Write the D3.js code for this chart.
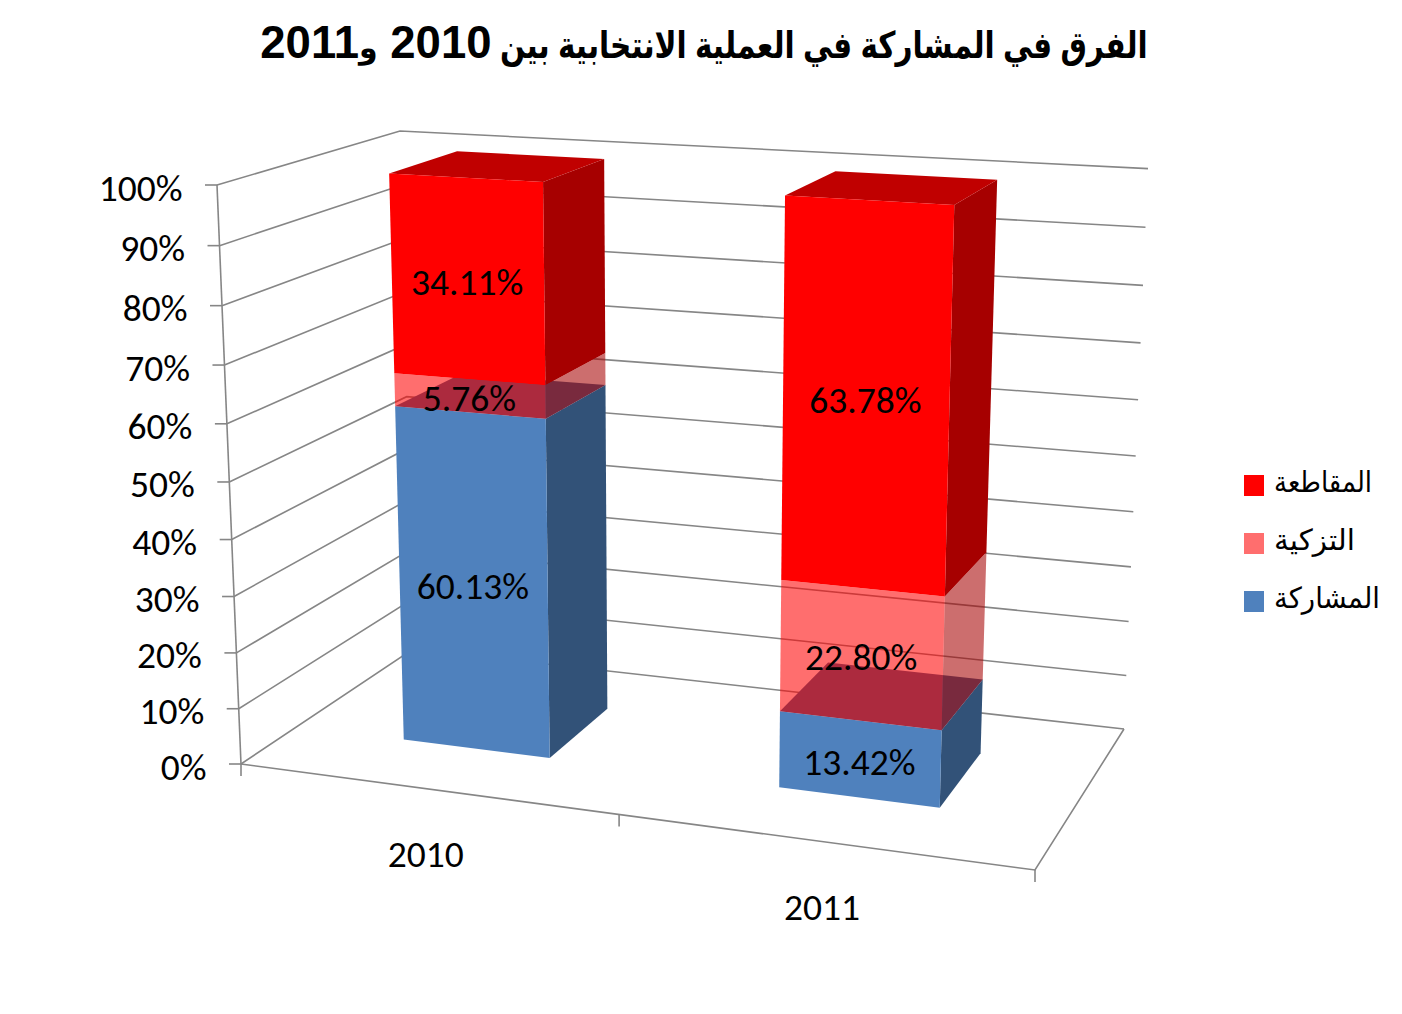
<!DOCTYPE html>
<html lang="ar">
<head>
<meta charset="utf-8">
<title>chart</title>
<script src="https://cdn.jsdelivr.net/npm/d3@7/dist/d3.min.js"></script>
<style>
html,body{margin:0;padding:0;background:#fff;overflow:hidden}
svg{display:block}
</style>
</head>
<body>
<svg id="c" width="1402" height="1014"></svg>
<script>
// ---- data ----
const categories = ["2010", "2011"];
const participation = [60.13, 13.42];
const acclamation = [5.76, 22.80];
const boycott = [34.11, 63.78];
const seriesNames = ["المشاركة", "التزكية", "المقاطعة"];
const valueTicks = [0,10,20,30,40,50,60,70,80,90,100];

// ---- 3D box of the plot (screen corners), and perspective factors ----
const floorFL=[241,764], floorFR=[1035,870], floorBL=[413,649], floorBR=[1124,729];
const topFL=[217,185], topFR=[1055,234], topBL=[400,131], topBR=[1148,168.6];
const warp=(t,k)=>t/(t+(1-t)*k);
const kX=1.10, kD=0.87, kV=1.053;

const xScale=d3.scaleBand().domain(categories).range([0,1]).paddingInner(0.6).paddingOuter(0.3);
const xAxisScale=d3.scaleLinear().domain([0,1]).range([0,1]);
const yScale=d3.scaleLinear().domain([0,100]).range([0,1]);
const depthRange=[0.3,0.7];

function mix(a,b,t){return [a[0]+(b[0]-a[0])*t,a[1]+(b[1]-a[1])*t];}
function project(x,d,v){
  const u=warp(xAxisScale(x),kX), w=warp(d,kD), h=warp(yScale(v),kV);
  const bottom=mix(mix(floorFL,floorFR,u),mix(floorBL,floorBR,u),w);
  const top=mix(mix(topFL,topFR,u),mix(topBL,topBR,u),w);
  return mix(bottom,top,h);
}

const svg=d3.select("#c");
const line=d3.line();
const poly=d3.line().curve(d3.curveLinearClosed);

// ---- gridlines ----
const gridColor="#868686";
const grid=svg.append("g").attr("fill","none").attr("stroke",gridColor).attr("stroke-width",1.6);
valueTicks.forEach(v=>{
  grid.append("path").attr("d",line([project(0,0,v),project(0,1,v),project(1,1,v)]));
  const p=project(0,0,v);
  grid.append("path").attr("d",line([[p[0]-12,p[1]],p]));
});
grid.append("path").attr("d",line([project(0,0,0),project(0,0,100)]));
grid.append("path").attr("d",line([project(0,0,0),project(1,0,0),project(1,1,0)]));
[0,0.5,1].forEach(x=>{
  const p=project(x,0,0);
  grid.append("path").attr("d",line([p,[p[0],p[1]+12]]));
});

// ---- bars ----
const rows=categories.map((c,i)=>({cat:c,a:participation[i],b:acclamation[i],c:boycott[i]}));
const stacked=d3.stack().keys(["a","b","c"])(rows);
const colours=d3.scaleOrdinal().domain(["a","b","c"]).range(["#4F81BD","#FF0000","#FF0000"]);
const sideColours=d3.scaleOrdinal().domain(["a","b","c"]).range(["#325278","#A60000","#A60000"]);
const topColours=d3.scaleOrdinal().domain(["a","b","c"]).range(["#3F6390","#C00000","#C00000"]);
const opacityOf=d3.scaleOrdinal().domain(["a","b","c"]).range([1,0.57,1]);
const [d0,d1]=depthRange;

const labels=[];
categories.forEach((c,ci)=>{
  const x0=xScale(c), x1=x0+xScale.bandwidth();
  const g=svg.append("g");
  stacked.forEach(s=>{
    const [v0,v1]=s[ci];
    const key=s.key, op=opacityOf(key);
    g.append("path").attr("d",poly([project(x1,d0,v0),project(x1,d1,v0),project(x1,d1,v1),project(x1,d0,v1)]))
      .attr("fill",sideColours(key)).attr("fill-opacity",op);
    if(key!=="b"){
      g.append("path").attr("d",poly([project(x0,d0,v1),project(x1,d0,v1),project(x1,d1,v1),project(x0,d1,v1)]))
        .attr("fill",topColours(key));
    }
    g.append("path").attr("d",poly([project(x0,d0,v0),project(x1,d0,v0),project(x1,d0,v1),project(x0,d0,v1)]))
      .attr("fill",colours(key)).attr("fill-opacity",op);
    const p=project((x0+x1)/2,d0,(v0+v1)/2);
    labels.push({p,t:(v1-v0).toFixed(2)+"%"});
  });
});

// ---- text ----
const sans="Carlito, Lato, 'DejaVu Sans', sans-serif";
const labelSize=37.5;
svg.append("g").selectAll("text").data(labels).join("text")
  .attr("x",d=>d.p[0]).attr("y",d=>d.p[1]+15.5)
  .attr("text-anchor","middle").attr("font-family",sans).attr("font-size",labelSize)
  .attr("fill","#000").text(d=>d.t);

svg.append("g").selectAll("text").data(valueTicks).join("text")
  .attr("x",v=>project(0,0,v)[0]-34.5)
  .attr("y",v=>project(0,0,v)[1]+15.5)
  .attr("text-anchor","end").attr("font-family",sans).attr("font-size",labelSize)
  .attr("fill","#000").text(v=>v+"%");

svg.append("g").selectAll("text").data(categories).join("text")
  .attr("x",c=>project(xScale(c)+xScale.bandwidth()/2,0,0)[0])
  .attr("y",c=>project(xScale(c)+xScale.bandwidth()/2,0,0)[1]+78)
  .attr("text-anchor","middle").attr("font-family",sans).attr("font-size",labelSize)
  .attr("fill","#000").text(c=>c);

// title: Arabic run is condensed to the reference's width, digits stay wide
const title=svg.append("text").attr("x",704).attr("y",58)
  .attr("text-anchor","middle").attr("direction","rtl")
  .attr("font-family","'Liberation Sans','DejaVu Sans',sans-serif")
  .attr("font-weight","bold").attr("fill","#000");
title.append("tspan").attr("font-size",37).attr("textLength",656).attr("lengthAdjust","spacingAndGlyphs")
  .text("الفرق في المشاركة في العملية الانتخابية بين ");
title.append("tspan").attr("font-size",45.5).attr("dx",165).text("2010 ");
title.append("tspan").attr("font-size",30).text("و");
title.append("tspan").attr("font-size",45.5).text("2011");

// ---- legend ----
const legendRows=[{n:seriesNames[2],k:"c",o:1,w:98},{n:seriesNames[1],k:"b",o:0.57,w:81},{n:seriesNames[0],k:"a",o:1,w:106}];
const legendY=d3.scalePoint().domain(d3.range(3)).range([475,591]);
const leg=svg.append("g");
legendRows.forEach((r,i)=>{
  leg.append("rect").attr("x",1244).attr("y",legendY(i)).attr("width",20).attr("height",21)
    .attr("fill",colours(r.k)).attr("fill-opacity",r.o);
  leg.append("text").attr("x",1274).attr("y",legendY(i)+16.5)
    .attr("textLength",r.w).attr("lengthAdjust","spacingAndGlyphs")
    .attr("font-family","'Liberation Sans','DejaVu Sans',sans-serif").attr("font-size",29).attr("fill","#000").text(r.n);
});
</script>
</body>
</html>
